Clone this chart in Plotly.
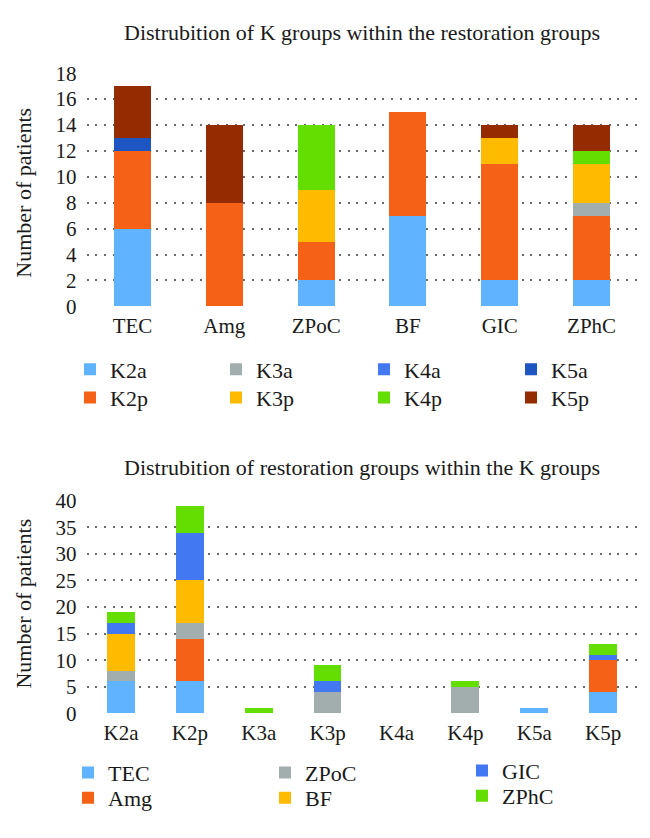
import plotly.graph_objects as go

W, H = 650, 838

# ---------------- data ----------------
restoration_groups = ["TEC", "Amg", "ZPoC", "BF", "GIC", "ZPhC"]
k_groups = ["K2a", "K2p", "K3a", "K3p", "K4a", "K4p", "K5a", "K5p"]

# top chart: K group counts within each restoration group
K2a = [6, 0, 2, 7, 2, 2]
K2p = [6, 8, 3, 8, 9, 5]
K3a = [0, 0, 0, 0, 0, 1]
K3p = [0, 0, 4, 0, 2, 3]
K4a = [0, 0, 0, 0, 0, 0]
K4p = [0, 0, 5, 0, 0, 1]
K5a = [1, 0, 0, 0, 0, 0]
K5p = [4, 6, 0, 0, 1, 2]

# bottom chart: restoration group counts within each K group
TEC = [6, 6, 0, 0, 0, 0, 1, 4]
Amg = [0, 8, 0, 0, 0, 0, 0, 6]
ZPoC = [2, 3, 0, 4, 0, 5, 0, 0]
BF = [7, 8, 0, 0, 0, 0, 0, 0]
GIC = [2, 9, 0, 2, 0, 0, 0, 1]
ZPhC = [2, 5, 1, 3, 0, 1, 0, 2]

top_ticks = list(range(0, 19, 2))
bottom_ticks = list(range(0, 41, 5))

# ---------------- styling ----------------
FONT = "Liberation Serif"
TXT = "#1a1a1a"
k_colors = {
    "K2a": "#5FB3FF", "K2p": "#F46117", "K3a": "#A2AEAE", "K3p": "#FFBB00",
    "K4a": "#4279F3", "K4p": "#64DD00", "K5a": "#1D55C2", "K5p": "#952B00",
}
r_colors = {
    "TEC": "#5FB3FF", "Amg": "#F46117", "ZPoC": "#A2AEAE", "BF": "#FFBB00",
    "GIC": "#4279F3", "ZPhC": "#64DD00",
}

# legend slot (symbol centre x, row y) in pixels for each entry
top_legend_pos = {
    "K2a": (90, 368), "K2p": (90, 397), "K3a": (236, 368), "K3p": (236, 397),
    "K4a": (384, 368), "K4p": (384, 397), "K5a": (531, 368), "K5p": (531, 397),
}
bottom_legend_pos = {
    "TEC": (88, 783), "Amg": (88, 809), "ZPoC": (285, 783), "BF": (285, 809),
    "GIC": (482, 781), "ZPhC": (482, 807),
}
SYMBOL_OFFSET = 20  # distance from legend x to symbol centre


def px_x(p):
    return p / W


def px_y(p):
    return 1 - p / H


fig = go.Figure()
legends = {}
n = 0


def new_legend(pos):
    global n
    n += 1
    key = "legend" if n == 1 else f"legend{n}"
    legends[key] = dict(
        x=px_x(pos[0] - SYMBOL_OFFSET), y=px_y(pos[1]),
        xanchor="left", yanchor="middle", orientation="v",
        font=dict(family=FONT, size=22, color=TXT),
        bgcolor="rgba(0,0,0,0)", itemwidth=30, traceorder="normal",
        itemclick=False, itemdoubleclick=False,
    )
    return key


top_series = {"K2a": K2a, "K2p": K2p, "K3a": K3a, "K3p": K3p,
              "K4a": K4a, "K4p": K4p, "K5a": K5a, "K5p": K5p}
for name, vals in top_series.items():
    fig.add_trace(go.Bar(
        x=restoration_groups, y=vals, name=name,
        marker=dict(color=k_colors[name], line=dict(width=0)),
        xaxis="x", yaxis="y", legend=new_legend(top_legend_pos[name]),
    ))

bottom_series = {"TEC": TEC, "Amg": Amg, "ZPoC": ZPoC, "BF": BF, "GIC": GIC, "ZPhC": ZPhC}
for name, vals in bottom_series.items():
    fig.add_trace(go.Bar(
        x=k_groups, y=vals, name=name,
        marker=dict(color=r_colors[name], line=dict(width=0)),
        xaxis="x2", yaxis="y2", legend=new_legend(bottom_legend_pos[name]),
    ))

grid = dict(showgrid=True, gridcolor="#6a6a6a", gridwidth=1.5, griddash="2px,6.7px",
            zeroline=False, showline=False, ticks="",
            tickfont=dict(family=FONT, size=21, color=TXT))
xcommon = dict(showgrid=False, zeroline=False, showline=False, ticks="",
               ticklabelstandoff=5, tickfont=dict(family=FONT, size=21, color=TXT))

xdom = [px_x(86.6), px_x(637.5)]
fig.update_layout(
    width=W, height=H,
    margin=dict(l=0, r=0, t=0, b=0),
    paper_bgcolor="white", plot_bgcolor="white",
    barmode="stack", bargap=0.597,
    font=dict(family=FONT, size=22, color=TXT),
    xaxis=dict(domain=xdom, anchor="y", **xcommon),
    yaxis=dict(domain=[px_y(303), px_y(63)], anchor="x", range=[0, 18],
               tickvals=top_ticks, ticklabelstandoff=9, **grid),
    xaxis2=dict(domain=xdom, anchor="y2", **xcommon),
    yaxis2=dict(domain=[px_y(722), px_y(503)], anchor="x2", range=[0, 40],
                tickvals=bottom_ticks, ticklabelstandoff=9, **grid),
    showlegend=True,
    **legends,
)

annots = [
    dict(text="Distrubition of K groups within the restoration groups",
         x=px_x(362), y=px_y(21), xanchor="center", yanchor="middle"),
    dict(text="Distrubition of restoration groups within the K groups",
         x=px_x(362), y=px_y(469), xanchor="center", yanchor="middle"),
    dict(text="Number of patients", textangle=-90,
         x=px_x(24), y=px_y(186), xanchor="center", yanchor="middle"),
    dict(text="Number of patients", textangle=-90,
         x=px_x(24), y=px_y(609), xanchor="center", yanchor="middle"),
]
for a in annots:
    fig.add_annotation(xref="paper", yref="paper", showarrow=False,
                       font=dict(family=FONT, size=22, color=TXT), **a)

fig.write_html("out.html",
               config={"displayModeBar": False},
               post_script="document.body.style.margin='0';document.body.style.overflow='hidden';")
